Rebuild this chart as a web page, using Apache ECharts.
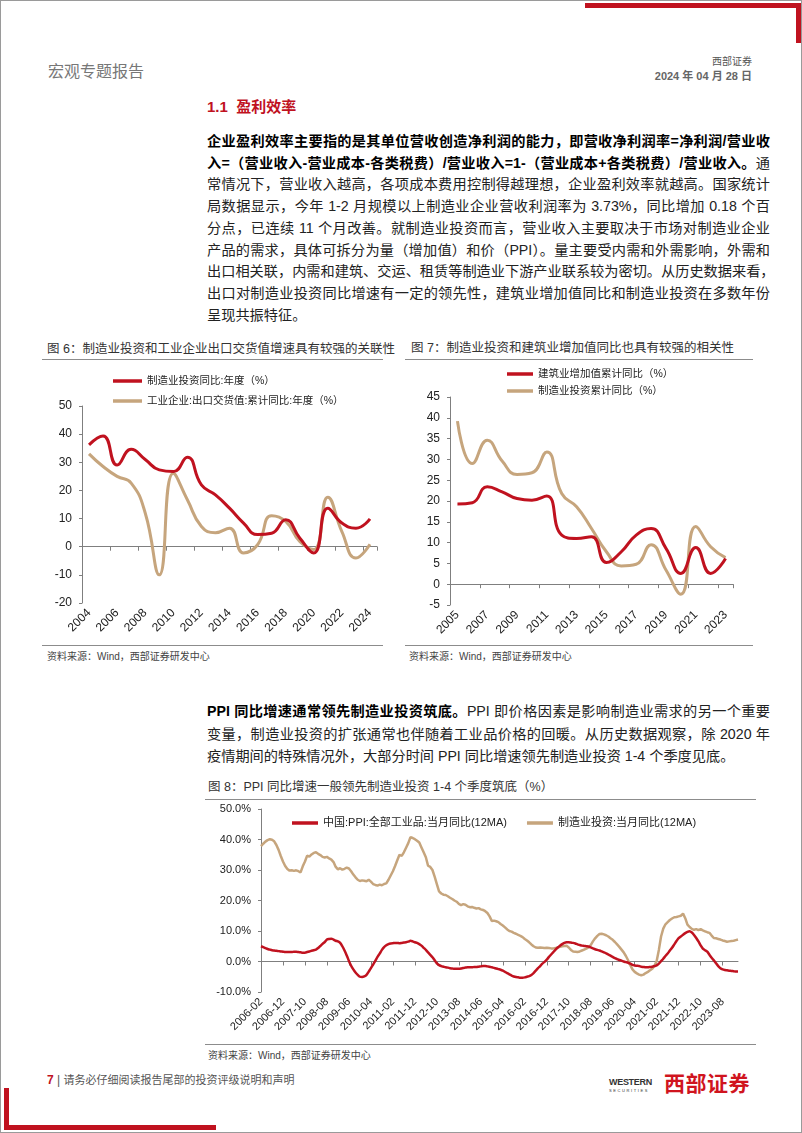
<!DOCTYPE html>
<html>
<head>
<meta charset="utf-8">
<script src="https://cdn.jsdelivr.net/npm/echarts/dist/echarts.min.js"></script>
<style>
  html, body { margin: 0; padding: 0; background: #fff; }
  body { width: 802px; height: 1133px; position: relative; overflow: hidden;
         font-family: "Liberation Sans", "Noto Sans CJK SC", sans-serif; color: #222; }
  .abs { position: absolute; }
  .frame { left: 0; top: 0; width: 800px; height: 1131px; border: 1px solid #9a9a9a; }
  .line { position: absolute; left: 207px; width: 563px; font-size: 14.2px; line-height: 20px;
          text-align: justify; text-align-last: justify; white-space: nowrap; }
  .line.last { text-align-last: left; }
  .b { font-weight: bold; color: #000; }
  .ftitle { position: absolute; font-size: 12.5px; line-height: 16px; color: #333; white-space: nowrap; }
  .rule { position: absolute; height: 0; border-top: 1.5px solid #8c8c8c; }
  .src { position: absolute; font-size: 10px; line-height: 14px; color: #444; white-space: nowrap; }
</style>
</head>
<body>
<div class="abs frame"></div>

<!-- header -->
<div class="abs" style="left:585px;top:3px;width:216px;height:5px;background:#C0121F"></div>
<div class="abs" style="left:796px;top:3px;width:5px;height:40px;background:#C0121F"></div>
<div class="abs" style="left:48px;top:62px;font-size:16px;line-height:20px;color:#777">宏观专题报告</div>
<div class="abs" style="right:50px;top:55px;font-size:10px;line-height:13px;color:#555">西部证券</div>
<div class="abs" style="right:50px;top:69px;font-size:11px;line-height:15px;color:#666;font-weight:bold">2024 年 04 月 28 日</div>

<!-- section 1.1 -->
<div class="abs" style="left:207px;top:97px;font-size:15px;line-height:20px;color:#C0121F;font-weight:bold">1.1&nbsp; 盈利效率</div>
<div class="line b" style="top:131px">企业盈利效率主要指的是其单位营收创造净利润的能力，即营收净利润率=净利润/营业收</div>
<div class="line" style="top:152.7px"><span class="b">入=（营业收入-营业成本-各类税费）/营业收入=1-（营业成本+各类税费）/营业收入。</span>通</div>
<div class="line" style="top:174.4px">常情况下，营业收入越高，各项成本费用控制得越理想，企业盈利效率就越高。国家统计</div>
<div class="line" style="top:196.1px">局数据显示，今年 1-2 月规模以上制造业企业营收利润率为 3.73%，同比增加 0.18 个百</div>
<div class="line" style="top:217.8px">分点，已连续 11 个月改善。就制造业投资而言，营业收入主要取决于市场对制造业企业</div>
<div class="line" style="top:239.5px">产品的需求，具体可拆分为量（增加值）和价（PPI）。量主要受内需和外需影响，外需和</div>
<div class="line" style="top:261.2px">出口相关联，内需和建筑、交运、租赁等制造业下游产业联系较为密切。从历史数据来看，</div>
<div class="line" style="top:282.9px">出口对制造业投资同比增速有一定的领先性，建筑业增加值同比和制造业投资在多数年份</div>
<div class="line last" style="top:304.6px">呈现共振特征。</div>

<!-- figure 6 / 7 frames -->
<div class="ftitle" style="left:47px;top:341px">图 6：制造业投资和工业企业出口交货值增速具有较强的关联性</div>
<div class="rule" style="left:42px;top:359px;width:341px"></div>
<div class="ftitle" style="left:411px;top:340px">图 7：制造业投资和建筑业增加值同比也具有较强的相关性</div>
<div class="rule" style="left:405px;top:359px;width:348px"></div>
<div id="c6" class="abs" style="left:30px;top:360px;width:360px;height:285px"></div>
<div id="c7" class="abs" style="left:400px;top:360px;width:350px;height:285px"></div>
<div class="rule" style="left:42px;top:645px;width:341px"></div>
<div class="rule" style="left:405px;top:645px;width:348px"></div>
<div class="src" style="left:47px;top:650px">资料来源：Wind，西部证券研发中心</div>
<div class="src" style="left:409px;top:650px">资料来源：Wind，西部证券研发中心</div>

<!-- section PPI -->
<div class="line" style="top:701px"><span class="b">PPI 同比增速通常领先制造业投资筑底。</span>PPI 即价格因素是影响制造业需求的另一个重要</div>
<div class="line" style="top:723.5px">变量，制造业投资的扩张通常也伴随着工业品价格的回暖。从历史数据观察，除 2020 年</div>
<div class="line last" style="top:746px">疫情期间的特殊情况外，大部分时间 PPI 同比增速领先制造业投资 1-4 个季度见底。</div>

<!-- figure 8 -->
<div class="ftitle" style="left:208px;top:779px">图 8：PPI 同比增速一般领先制造业投资 1-4 个季度筑底（%）</div>
<div class="rule" style="left:205px;top:799px;width:551px"></div>
<div id="c8" class="abs" style="left:190px;top:800px;width:570px;height:244px"></div>
<div class="rule" style="left:205px;top:1044px;width:551px"></div>
<div class="src" style="left:208px;top:1049px">资料来源：Wind，西部证券研发中心</div>

<!-- footer -->
<div class="abs" style="left:47px;top:1072px;font-size:12px;line-height:16px;white-space:nowrap">
  <span style="color:#C0121F;font-weight:bold">7</span><span style="color:#555"> | </span><span style="color:#555;font-size:11px">请务必仔细阅读报告尾部的投资评级说明和声明</span>
</div>
<div class="abs" style="left:609px;top:1077px;font-size:9px;line-height:10px;font-weight:bold;color:#333;letter-spacing:-0.3px">WESTERN</div>
<div class="abs" style="left:609px;top:1088px;font-size:4px;line-height:5px;color:#333;letter-spacing:1.6px">SECURITIES</div>
<div class="abs" style="left:664px;top:1072px;font-size:21px;line-height:24px;font-weight:bold;color:#D0141E;letter-spacing:0.5px">西部证券</div>
<div class="abs" style="left:4px;top:1088px;width:5px;height:42px;background:#C0121F"></div>
<div class="abs" style="left:4px;top:1125px;width:212px;height:5px;background:#C0121F"></div>

<script>
// ---------- data ----------
// fig 6 (annual)
const years6 = ['2004','2005','2006','2007','2008','2009','2010','2011','2012','2013','2014',
                '2015','2016','2017','2018','2019','2020','2021','2022','2023','2024'];
const mfgInv6 = [36.2, 39.3, 29.0, 34.6, 31.0, 27.3, 26.7, 31.8, 22.0, 18.4, 13.7,
                 8.4, 4.3, 4.8, 9.6, 3.1, -2.2, 13.7, 8.4, 6.6, 9.9];
const exportDel6 = [33.0, 28.5, 25.0, 22.6, 12.0, -10.0, 26.1, 16.7, 7.2, 5.0, 6.6,
                    -2.2, 0.7, 11.0, 9.0, 1.9, -1.0, 17.6, 5.4, -4.0, 0.9];

// fig 7 (annual)
const years7 = ['2005','2006','2007','2008','2009','2010','2011','2012','2013','2014',
                '2015','2016','2017','2018','2019','2020','2021','2022','2023'];
const constrVA7 = [19.3, 19.6, 23.4, 22.2, 20.6, 20.2, 21.2, 11.8, 11.0, 11.4,
                   5.2, 7.8, 11.8, 13.4, 8.6, 2.6, 8.8, 2.6, 6.2];
const mfgInv7 = [39.2, 29.0, 34.6, 29.6, 26.4, 26.8, 31.8, 21.8, 18.6, 13.4,
                 7.8, 4.4, 4.8, 9.5, 3.4, -2.4, 13.9, 9.0, 6.4];

// fig 8 (monthly, 2006-02 .. 2024-03), one row per calendar year
const ppi12ma = [
  5.0, 4.7, 4.4, 4.1, 3.9, 3.7, 3.6, 3.5, 3.4, 3.3, 3.2,
  3.1, 3.1, 3.1, 3.1, 3.2, 3.2, 3.1, 3.0, 2.9, 2.9, 3.1, 3.3,
  3.5, 3.7, 3.9, 4.4, 5.1, 5.8, 6.4, 7.2, 7.4, 7.5, 7.2, 6.8,
  6.6, 6.1, 5.0, 3.6, 2.0, 0.2, -1.4, -2.6, -3.6, -4.4, -5.0, -5.1,
  -4.9, -4.4, -3.3, -2.2, -1.0, 0.2, 1.5, 2.6, 3.8, 4.7, 5.3, 5.7,
  5.9, 6.0, 6.1, 6.1, 6.0, 6.1, 6.2, 6.3, 6.5, 6.8, 6.6, 6.3,
  6.1, 5.7, 5.2, 4.5, 3.8, 3.0, 2.2, 1.4, 0.4, -0.6, -1.2, -1.5,
  -1.7, -1.9, -2.0, -2.2, -2.3, -2.4, -2.4, -2.4, -2.3, -2.1, -2.0, -1.9,
  -1.9, -1.9, -1.8, -1.8, -1.7, -1.6, -1.5, -1.5, -1.6, -1.7, -1.9, -2.1,
  -2.3, -2.5, -2.7, -3.0, -3.4, -3.8, -4.2, -4.6, -4.9, -5.1, -5.2, -5.3,
  -5.3, -5.2, -5.0, -4.8, -4.4, -3.8, -3.0, -2.2, -1.5, -0.7, -0.1, 0.6,
  1.5, 2.3, 3.1, 3.9, 4.6, 5.2, 5.7, 6.1, 6.3, 6.3, 6.2, 6.1,
  5.9, 5.6, 5.4, 5.2, 5.1, 5.0, 4.9, 4.6, 4.3, 4.0, 3.8, 3.6,
  3.3, 3.0, 2.7, 2.3, 1.9, 1.5, 1.1, 0.8, 0.5, 0.3, 0.0, -0.2,
  -0.4, -0.7, -1.1, -1.3, -1.4, -1.5, -1.7, -1.8, -1.9, -1.9, -1.8, -1.7,
  -1.5, -1.3, -0.7, 0.1, 0.9, 1.8, 2.6, 3.6, 4.5, 5.6, 6.7, 7.7,
  8.2, 8.8, 9.3, 9.7, 9.9, 9.5, 8.7, 7.7, 6.6, 5.3, 4.2, 3.7,
  3.2, 2.2, 1.2, 0.4, -0.6, -1.5, -2.2, -2.6, -2.8, -2.9, -3.0, -3.1,
  -3.2, -3.3, -3.3
];
const mfgInv12ma = [
  37.8, 38.6, 39.3, 39.8, 40.1, 39.9, 39.4, 38.2, 36.6, 34.6, 32.8,
  31.3, 30.3, 29.8, 29.9, 29.7, 29.9, 29.6, 29.2, 31.2, 32.8, 34.7, 34.4,
  35.1, 35.6, 35.8, 35.3, 34.9, 34.3, 34.1, 34.3, 33.8, 33.4, 32.6, 31.0,
  30.2, 30.6, 30.1, 30.4, 30.8, 30.5, 29.6, 28.5, 27.6, 26.8, 26.4, 26.6,
  26.5, 26.3, 26.8, 26.2, 25.4, 25.1, 24.9, 25.2, 25.0, 25.4, 25.6, 26.8,
  28.2, 29.6, 31.3, 33.2, 35.0, 34.6, 35.8, 37.3, 38.8, 40.8, 40.5, 40.1,
  39.6, 39.0, 37.4, 35.8, 34.2, 31.4, 31.0, 30.0, 27.8, 25.4, 23.0, 22.3,
  21.9, 21.8, 21.4, 20.9, 20.5, 20.0, 19.6, 18.9, 18.5, 18.8, 18.6, 18.1,
  17.8, 17.9, 17.6, 17.4, 17.5, 17.1, 16.9, 16.5, 15.9, 14.8, 13.3, 13.4,
  13.2, 12.9, 12.3, 11.8, 11.2, 10.5, 10.0, 9.8, 9.4, 9.1, 8.7, 8.4,
  8.0, 7.4, 6.9, 6.3, 5.6, 5.0, 4.6, 4.5, 4.6, 4.5, 4.4, 4.5,
  4.4, 4.3, 4.3, 4.4, 4.6, 4.8, 5.0, 5.1, 5.2, 4.6, 3.8, 3.3,
  3.2, 3.1, 3.3, 3.6, 3.9, 4.2, 4.6, 5.4, 6.6, 7.6, 8.4, 9.0,
  9.1, 8.9, 8.6, 8.2, 7.6, 7.1, 6.4, 5.6, 4.8, 3.9, 3.0, 1.8,
  0.4, -1.2, -2.6, -3.4, -3.9, -4.3, -4.5, -4.3, -3.8, -3.4, -2.9, -2.4,
  -1.4, 0.2, 3.8, 8.2, 10.8, 12.2, 12.9, 13.6, 14.1, 14.5, 14.6, 14.8,
  15.0, 15.7, 14.2, 12.1, 11.3, 10.7, 10.4, 10.6, 10.3, 10.6, 10.2, 9.9,
  9.6, 9.4, 8.5, 7.7, 7.6, 7.4, 7.2, 6.9, 6.7, 6.5, 6.6, 6.7,
  6.8, 7.0, 7.2
];
// month labels 2006-02 onward, one per value
const months8 = [];
for (let k = 0; k < ppi12ma.length; k++) {
  const m = 1 + k;               // 2006-02 is month offset 1
  const y = 2006 + Math.floor(m / 12);
  const mm = (m % 12) + 1;
  months8.push(y + '-' + (mm < 10 ? '0' + mm : mm));
}

// ---------- styles ----------
const RED = '#C0121F';
const TAN = '#C6A57D';
const AXIS = '#7f7f7f';
const TXT = '#222';
const FONT = '"Liberation Sans", "Noto Sans CJK SC", sans-serif';

function xAxesPair(cats, tickInterval, labelInterval, fontSize, boundaryGap) {
  return [
    { // the line through zero with its ticks
      type: 'category', data: cats, boundaryGap: boundaryGap,
      axisLine: { onZero: true, lineStyle: { color: AXIS, width: 1 } },
      axisTick: { show: true, interval: tickInterval, length: 4, lineStyle: { color: AXIS } },
      axisLabel: { show: false }, splitLine: { show: false }
    },
    { // labels along the bottom
      type: 'category', data: cats, boundaryGap: boundaryGap, position: 'bottom',
      axisLine: { show: false, onZero: false }, axisTick: { show: false },
      axisLabel: { interval: labelInterval, rotate: 45, margin: 8, color: TXT,
                   fontSize: fontSize, fontFamily: FONT },
      splitLine: { show: false }
    }
  ];
}

function yAxis(min, max, step, fontSize, fmt) {
  return {
    type: 'value', min: min, max: max, interval: step,
    axisLine: { show: true, lineStyle: { color: AXIS } },
    axisTick: { show: true, length: 3, lineStyle: { color: AXIS } },
    axisLabel: { color: TXT, fontSize: fontSize, fontFamily: FONT, margin: 10, formatter: fmt },
    splitLine: { show: false }
  };
}

function lineSeries(name, data, color, width, smooth) {
  return { name: name, type: 'line', data: data, xAxisIndex: 0, smooth: smooth,
           symbol: 'none', lineStyle: { color: color, width: width },
           itemStyle: { color: color }, animation: false };
}

// ---------- figure 6 ----------
const c6 = echarts.init(document.getElementById('c6'));
c6.setOption({
  animation: false,
  grid: { left: 52, right: 13, top: 46, bottom: 42 },
  legend: {
    orient: 'vertical', left: 78, top: 9, itemGap: 6, icon: 'rect',
    itemWidth: 29, itemHeight: 3.5,
    textStyle: { fontSize: 10.5, lineHeight: 14, color: TXT, fontFamily: FONT },
    data: ['制造业投资同比:年度（%）', '工业企业:出口交货值:累计同比:年度（%）']
  },
  xAxis: xAxesPair(years6, 1, 1, 12, true),
  yAxis: yAxis(-20, 50, 10, 12),
  series: [
    lineSeries('工业企业:出口交货值:累计同比:年度（%）', exportDel6, TAN, 3, true),
    lineSeries('制造业投资同比:年度（%）', mfgInv6, RED, 3, true)
  ]
});

// ---------- figure 7 ----------
const c7 = echarts.init(document.getElementById('c7'));
c7.setOption({
  animation: false,
  grid: { left: 50, right: 17, top: 37, bottom: 40 },
  legend: {
    orient: 'vertical', left: 102, top: 2.5, itemGap: 4, icon: 'rect',
    itemWidth: 26, itemHeight: 3.5,
    textStyle: { fontSize: 10.5, lineHeight: 13, color: TXT, fontFamily: FONT },
    data: ['建筑业增加值累计同比（%）', '制造业投资累计同比（%）']
  },
  xAxis: xAxesPair(years7, 1, 1, 12, true),
  yAxis: yAxis(-5, 45, 5, 12),
  series: [
    lineSeries('制造业投资累计同比（%）', mfgInv7, TAN, 3, true),
    lineSeries('建筑业增加值累计同比（%）', constrVA7, RED, 3, true)
  ]
});

// ---------- figure 8 ----------
const c8 = echarts.init(document.getElementById('c8'));
c8.setOption({
  animation: false,
  grid: { left: 71, right: 22, top: 9, bottom: 52 },
  legend: {
    left: 97, top: 11, itemGap: 20, icon: 'rect', itemWidth: 26, itemHeight: 3.5,
    textStyle: { fontSize: 11, lineHeight: 14, color: TXT, fontFamily: FONT },
    data: ['中国:PPI:全部工业品:当月同比(12MA)', '制造业投资:当月同比(12MA)']
  },
  xAxis: xAxesPair(months8, 9, 9, 11, false),
  yAxis: yAxis(-10, 50, 10, 11, v => v.toFixed(1) + '%'),
  series: [
    lineSeries('制造业投资:当月同比(12MA)', mfgInv12ma, TAN, 2.5, false),
    lineSeries('中国:PPI:全部工业品:当月同比(12MA)', ppi12ma, RED, 2.5, 0.3)
  ]
});
</script>
</body>
</html>
